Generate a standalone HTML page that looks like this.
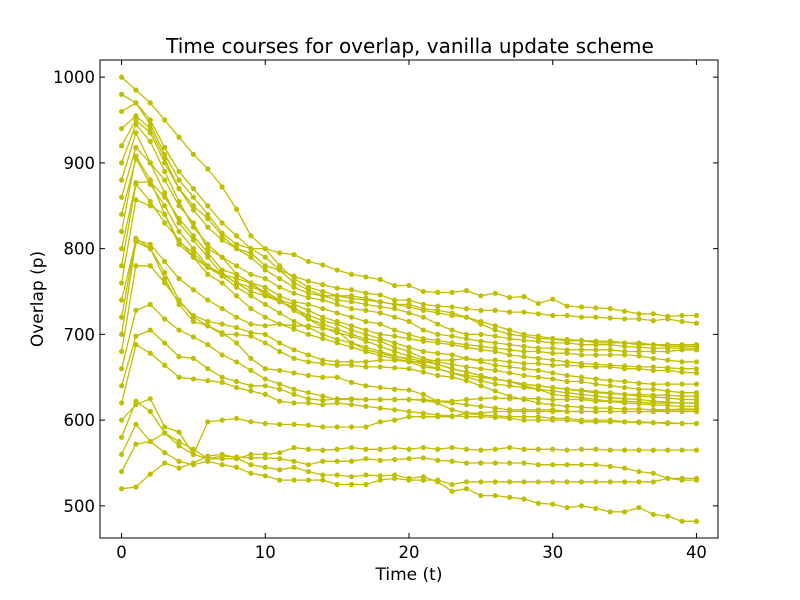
<!DOCTYPE html>
<html><head><meta charset="utf-8"><style>
html,body{margin:0;padding:0;background:#fff;}
svg{display:block;font-family:"DejaVu Sans","Liberation Sans",sans-serif;}
</style></head><body>
<svg id="chart" width="800" height="600" xmlns="http://www.w3.org/2000/svg">
<rect width="800" height="600" fill="#fff"/>
<text x="410" y="53" text-anchor="middle" font-size="20">Time courses for overlap, vanilla update scheme</text>
<text x="409" y="580" text-anchor="middle" font-size="17">Time (t)</text>
<text x="43" y="299" text-anchor="middle" font-size="17" transform="rotate(-90 43 299)">Overlap (p)</text>
<g id="series"></g>
<g id="axes"></g>
</svg>
<script>
const xTicks = [0, 10, 20, 30, 40];
const yTicks = [500, 600, 700, 800, 900, 1000];
const s1000 = [1000,985,970,950,930,910,893,872,846,815,800,795,793,785,781,775,770,767,764,757,757,750,749,749,751,745,748,743,744,736,741,733,732,731,730,727,724,724,721,722,722];
const s980 = [980,970,950,918,890,870,850,830,815,800,790,775,768,762,758,754,752,748,746,740,740,735,733,732,730,728,728,726,726,724,722,722,720,720,719,718,718,716,718,715,713];
const s960 = [960,970,945,910,880,860,840,818,805,800,800,780,765,755,750,745,745,742,738,735,732,728,725,722,720,715,710,705,700,698,695,694,693,692,692,690,690,688,688,688,688];
const s940 = [940,955,940,905,870,850,835,815,800,795,780,775,760,752,745,745,742,740,738,735,735,730,728,725,720,712,705,700,698,695,695,692,693,690,690,690,688,688,686,686,686];
const s920 = [920,950,935,900,870,845,825,810,800,790,775,765,755,748,745,740,738,735,732,730,725,720,712,705,700,700,698,695,693,692,690,690,688,688,688,686,685,684,684,684,684];
const s900 = [900,945,925,890,855,825,805,790,780,770,765,755,748,743,740,735,730,728,725,720,715,705,700,698,695,692,690,688,686,684,684,682,682,682,682,680,680,680,680,682,682];
const s880 = [880,935,900,880,850,830,800,790,770,760,755,745,738,735,730,725,720,715,712,705,700,695,693,690,688,686,684,682,680,680,678,678,676,676,676,676,675,672,670,668,668];
const s860 = [860,918,900,865,830,810,790,770,760,750,745,740,735,728,720,715,710,705,700,698,695,692,690,688,685,682,680,676,674,672,670,668,666,665,664,663,662,662,661,660,660];
const s840 = [840,905,875,850,820,800,780,770,765,760,745,738,730,722,716,712,705,700,695,690,685,680,678,676,672,668,664,662,660,658,655,652,650,648,646,645,643,642,642,642,642];
const s820 = [820,908,880,840,805,790,778,770,760,755,750,740,728,718,712,706,700,695,692,685,680,672,668,665,662,660,658,655,652,650,648,645,645,642,640,638,636,636,634,632,632];
const s800 = [800,877,878,860,835,815,795,775,770,760,748,738,732,718,708,702,698,692,686,680,675,670,665,660,656,652,648,645,642,640,638,636,634,632,631,630,630,629,629,628,628];
const s780 = [780,875,855,830,810,790,770,760,745,730,720,712,706,700,695,690,685,680,675,672,668,662,660,655,652,650,648,645,642,640,638,636,635,633,632,630,628,627,626,624,624];
const s760 = [760,857,850,840,808,795,778,768,755,745,735,725,715,708,700,694,690,685,680,675,670,665,660,655,650,646,642,640,638,636,634,632,630,628,626,625,624,622,621,620,620];
const s740 = [740,810,805,785,765,752,740,730,720,712,710,712,710,710,707,704,690,682,678,674,672,668,665,660,656,652,648,645,640,636,630,628,626,624,622,620,619,618,617,616,616];
const s720 = [720,812,800,772,740,720,710,700,700,698,690,680,672,668,666,664,664,662,662,661,660,656,652,650,646,640,634,628,624,620,618,616,615,614,614,613,613,612,612,613,613];
const s700 = [700,808,800,765,735,715,710,702,690,672,660,658,655,652,650,650,644,640,638,636,635,630,622,620,618,616,614,612,612,612,612,610,610,610,610,610,610,610,610,610,610];
const s680 = [680,780,780,760,738,722,715,712,708,702,700,690,682,676,670,668,668,668,670,670,668,668,670,670,672,670,670,668,666,666,664,664,663,662,662,660,660,658,658,656,655];
const s660 = [660,728,735,718,705,697,688,676,668,658,648,642,636,632,628,624,624,624,624,624,624,624,622,622,624,625,626,625,625,625,624,624,624,622,622,622,621,620,620,620,620];
const s640 = [640,698,705,690,674,672,660,650,645,640,640,636,630,625,623,625,625,624,624,624,624,623,620,612,608,606,605,604,604,604,602,602,600,600,600,598,598,597,597,596,596];
const s620 = [620,688,678,664,650,648,646,644,638,634,630,622,620,620,618,620,618,616,614,612,610,608,606,605,604,604,603,602,600,600,600,600,598,598,598,598,597,597,596,596,596];
const s600 = [600,618,625,592,586,560,598,600,602,598,596,595,595,594,592,592,592,592,598,600,604,604,604,604,608,608,610,610,610,610,610,610,610,610,610,610,610,610,612,612,612];
const s580 = [580,622,610,585,575,566,555,558,557,556,556,555,552,548,552,552,552,555,553,554,555,556,553,552,550,550,550,550,550,548,548,548,548,548,546,544,540,538,532,530,530];
const s560 = [560,595,575,562,552,548,552,548,545,538,535,530,530,530,530,525,525,525,530,532,530,530,530,525,528,528,528,528,528,528,528,528,528,528,528,528,528,528,532,532,532];
const s540 = [540,572,575,585,570,560,555,555,555,560,560,562,568,566,565,566,568,566,566,568,566,568,566,568,566,565,566,568,566,566,566,565,566,566,565,565,565,565,565,565,565];
const s520 = [520,522,537,550,544,550,558,560,556,548,545,542,545,540,536,536,534,536,535,536,532,534,528,517,520,512,512,510,508,503,502,498,500,497,493,493,498,490,488,482,482];
const allSeries = [s1000,s980,s960,s940,s920,s900,s880,s860,s840,s820,s800,s780,s760,s740,s720,s700,s680,s660,s640,s620,s600,s580,s560,s540,s520];

const L = 100, R = 718, T = 60, B = 538;
const xMin = -1.5, xMax = 41.5, yMin = 462.5, yMax = 1020;
function xs(v){ return L + (v - xMin) / (xMax - xMin) * (R - L); }
function ys(v){ return B - (v - yMin) / (yMax - yMin) * (B - T); }
const NS = "http://www.w3.org/2000/svg";
const col = "#bfbf00";
const sg = document.getElementById('series');
allSeries.forEach((s, i) => {
  const g = document.createElementNS(NS, 'g');
  
  
  const p = document.createElementNS(NS, 'polyline');
  p.setAttribute('points', s.map((v, t) => xs(t).toFixed(1) + ',' + ys(v).toFixed(1)).join(' '));
  p.setAttribute('fill', 'none'); p.setAttribute('stroke', col); p.setAttribute('stroke-width', '1.3');
  
  
  g.appendChild(p);
  s.forEach((v, t) => {
    const c = document.createElementNS(NS, 'circle');
    c.setAttribute('cx', xs(t)); c.setAttribute('cy', ys(v)); c.setAttribute('r', '2.6');
    c.setAttribute('fill', col);
    
    
    g.appendChild(c);
  });
  sg.appendChild(g);
});
const ax = document.getElementById('axes');
const frame = document.createElementNS(NS, 'rect');
frame.setAttribute('x', L); frame.setAttribute('y', T); frame.setAttribute('width', R - L); frame.setAttribute('height', B - T);
frame.setAttribute('fill', 'none'); frame.setAttribute('stroke', '#000'); frame.setAttribute('stroke-width', '1');


ax.appendChild(frame);
function line(x1, y1, x2, y2){
  const l = document.createElementNS(NS, 'line');
  l.setAttribute('x1', x1); l.setAttribute('y1', y1); l.setAttribute('x2', x2); l.setAttribute('y2', y2);
  l.setAttribute('stroke', '#000'); l.setAttribute('stroke-width', '1');
  
  
  ax.appendChild(l);
}
function text(x, y, s, anchor){
  const t = document.createElementNS(NS, 'text');
  t.setAttribute('x', x); t.setAttribute('y', y); t.setAttribute('text-anchor', anchor);
  t.setAttribute('font-size', '16.5');
  t.textContent = s;
  
  
  ax.appendChild(t);
}
xTicks.forEach(v => {
  const x = xs(v);
  line(x, B, x, B - 5); line(x, T, x, T + 5);
  text(x, B + 20, String(v), 'middle');
});
yTicks.forEach(v => {
  const y = ys(v);
  line(L, y, L + 5, y); line(R, y, R - 5, y);
  text(L - 5, y + 6, String(v), 'end');
});
</script>
</body></html>
